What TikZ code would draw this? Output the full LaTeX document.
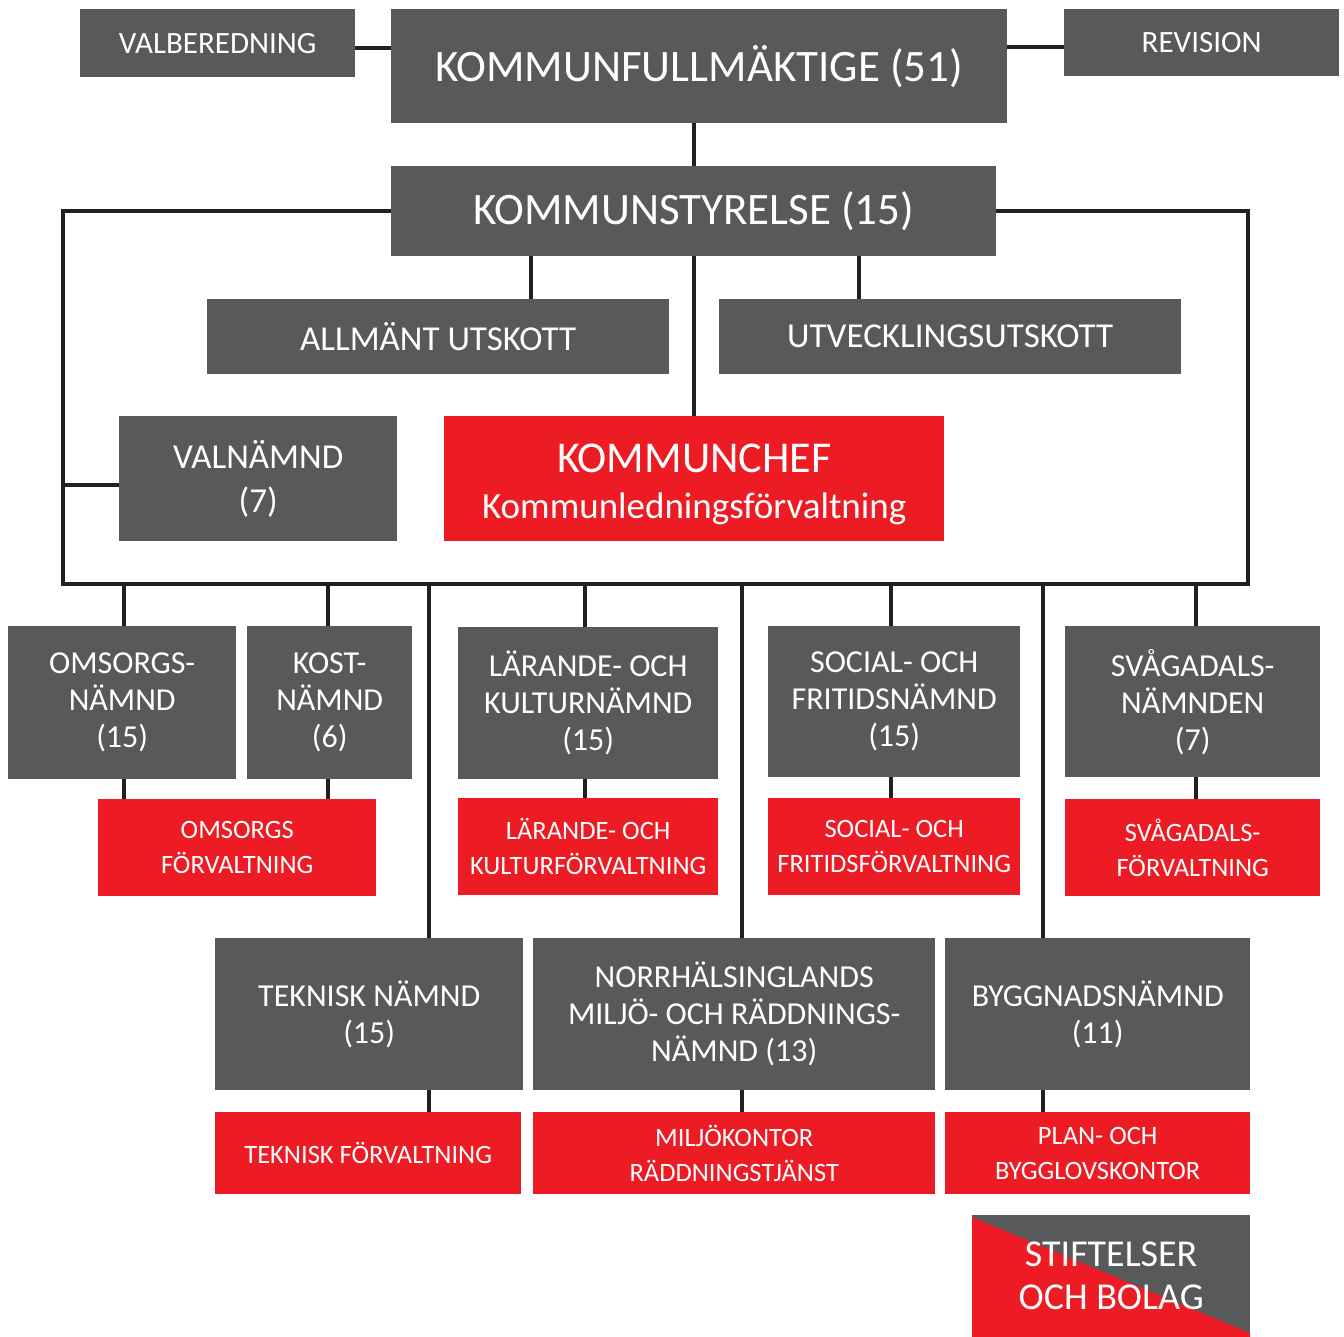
\documentclass[tikz,border=0pt]{standalone}
\usepackage{fontspec}
\setmainfont{Carlito}
\usepackage{xcolor}
\usepackage{tikz}
\definecolor{kgray}{HTML}{58595B}
\definecolor{kred}{HTML}{ED1C24}
\definecolor{kline}{HTML}{231F20}
\usetikzlibrary{positioning,calc}

\begin{document}
\begin{tikzpicture}[x=1pt, y=-1pt,
    box/.style={anchor=north west, inner sep=0pt, align=center, text=white},
    gray box/.style={box, fill=kgray},
    red box/.style={box, fill=kred},
    big text/.style={font=\fontsize{45}{52}\selectfont},
    mid text/.style={font=\fontsize{32}{37}\selectfont},
    small text/.style={font=\fontsize{26.5}{35}\selectfont},
    link/.style={draw=kline, line width=4pt}]
    \useasboundingbox (0,0) rectangle (1344,1337);

    % top level
    \node[gray box, minimum width=275, minimum height=68, font=\fontsize{31}{36}\selectfont] (valb) at (80,9) {VALBEREDNING};
    \node[gray box, minimum width=616, minimum height=114, big text] (kf) at (391,9) {KOMMUNFULLMÄKTIGE (51)};
    \node[gray box, minimum width=275, minimum height=67, font=\fontsize{31}{36}\selectfont] (rev) at (1064,9) {REVISION};
    \node[gray box, minimum width=605, minimum height=90, big text] (ks) at (391,166) {KOMMUNSTYRELSE (15)};
    \node[gray box, minimum width=462, minimum height=75, font=\fontsize{35}{40}\selectfont] (au) at (207,299) {ALLMÄNT UTSKOTT};
    \node[gray box, minimum width=462, minimum height=75, font=\fontsize{35}{40}\selectfont] (uu) at (719,299) {UTVECKLINGSUTSKOTT};
    \node[gray box, minimum width=278, minimum height=125, font=\fontsize{35}{44}\selectfont] (vn) at (119,416) {VALNÄMND\\(7)};
    \node[red box, minimum width=500, minimum height=125, font=\fontsize{44}{46}\selectfont] (kc) at (444,416)
        {\rule{0pt}{40pt}KOMMUNCHEF\\{\fontsize{37}{44}\selectfont Kommunledningsförvaltning}};

    % nämnder
    \node[gray box, minimum width=228, minimum height=153, mid text] (omn) at (8,626) {OMSORGS-\\NÄMND\\(15)};
    \node[gray box, minimum width=165, minimum height=153, mid text] (kost) at (247,626) {KOST-\\NÄMND\\(6)};
    \node[red box, minimum width=278, minimum height=97, small text] (omf) at (98,799) {OMSORGS\\FÖRVALTNING};
    \node[gray box, minimum width=260, minimum height=152, mid text] (lkn) at (458,627) {LÄRANDE- OCH\\KULTURNÄMND\\(15)};
    \node[red box, minimum width=260, minimum height=97, small text] (lkf) at (458,798) {LÄRANDE- OCH\\KULTURFÖRVALTNING};
    \node[gray box, minimum width=252, minimum height=151, mid text] (sfn) at (768,626) {SOCIAL- OCH\\FRITIDSNÄMND\\(15)};
    \node[red box, minimum width=252, minimum height=97, small text] (sff) at (768,798) {SOCIAL- OCH\\FRITIDSFÖRVALTNING};
    \node[gray box, minimum width=255, minimum height=151, mid text] (svn) at (1065,626) {SVÅGADALS-\\NÄMNDEN\\(7)};
    \node[red box, minimum width=255, minimum height=97, small text] (svf) at (1065,799) {SVÅGADALS-\\FÖRVALTNING};
    \node[gray box, minimum width=308, minimum height=152, mid text] (tn) at (215,938) {TEKNISK NÄMND\\(15)};
    \node[red box, minimum width=306, minimum height=82, small text] (tf) at (215,1112) {TEKNISK FÖRVALTNING};
    \node[gray box, minimum width=402, minimum height=152, mid text] (nmr) at (533,938) {NORRHÄLSINGLANDS\\MILJÖ- OCH RÄDDNINGS-\\NÄMND (13)};
    \node[red box, minimum width=402, minimum height=82, small text] (mrk) at (533,1112) {MILJÖKONTOR\\RÄDDNINGSTJÄNST};
    \node[gray box, minimum width=305, minimum height=152, mid text] (bn) at (945,938) {BYGGNADSNÄMND\\(11)};
    \node[red box, minimum width=305, minimum height=82, small text] (pbk) at (945,1112) {PLAN- OCH\\BYGGLOVSKONTOR};

    % stiftelser och bolag
    \fill[kgray] (972,1215) rectangle (1250,1337);
    \fill[kred] (972,1217) -- (1250,1333) -- (1250,1337) -- (972,1337) -- cycle;
    \node[box, minimum width=278, minimum height=122, font=\fontsize{38}{43}\selectfont] (sob) at (972,1215) {STIFTELSER\\OCH BOLAG};

    % connectors
    \coordinate (fl) at (63,584);
    \coordinate (fr) at (1248,584);
    \draw[link] ([yshift=-5pt]valb.east) -- ([yshift=-5pt]valb.east -| kf.west);
    \draw[link] ([yshift=-4pt]rev.west) -- ([yshift=-4pt]rev.west -| kf.east);
    \draw[link] (ks.north) -- (ks.north |- kf.south);
    \draw[link] (ks.west) -| (fl) -- (fr) |- (ks.east);
    \draw[link] ([xshift=93pt]au.north) -- ([xshift=93pt]au.north |- ks.south);
    \draw[link] ([xshift=-91pt]uu.north) -- ([xshift=-91pt]uu.north |- ks.south);
    \draw[link] (kc.north) -- (kc.north |- ks.south);
    \draw[link] ([yshift=-6pt]vn.west) -- ([yshift=-6pt]vn.west -| fl);
    \draw[link] ([xshift=2pt]omn.north) -- ([xshift=2pt]omn.north |- fl);
    \draw[link] ([xshift=-2pt]kost.north) -- ([xshift=-2pt]kost.north |- fl);
    \draw[link] ([xshift=-3pt]lkn.north) -- ([xshift=-3pt]lkn.north |- fl);
    \draw[link] ([xshift=-3pt]sfn.north) -- ([xshift=-3pt]sfn.north |- fl);
    \draw[link] ([xshift=3pt]svn.north) -- ([xshift=3pt]svn.north |- fl);
    \draw[link] ([xshift=60pt]tn.north) -- ([xshift=60pt]tn.north |- fl);
    \draw[link] ([xshift=8pt]nmr.north) -- ([xshift=8pt]nmr.north |- fl);
    \draw[link] ([xshift=-55pt]bn.north) -- ([xshift=-55pt]bn.north |- fl);
    \draw[link] ([xshift=2pt]omn.south) -- ([xshift=2pt]omn.south |- omf.north);
    \draw[link] ([xshift=-2pt]kost.south) -- ([xshift=-2pt]kost.south |- omf.north);
    \draw[link] ([xshift=-3pt]lkn.south) -- ([xshift=-3pt]lkn.south |- lkf.north);
    \draw[link] ([xshift=-3pt]sfn.south) -- ([xshift=-3pt]sfn.south |- sff.north);
    \draw[link] ([xshift=3pt]svn.south) -- ([xshift=3pt]svn.south |- svf.north);
    \draw[link] ([xshift=60pt]tn.south) -- ([xshift=60pt]tn.south |- tf.north);
    \draw[link] ([xshift=8pt]nmr.south) -- ([xshift=8pt]nmr.south |- mrk.north);
    \draw[link] ([xshift=-55pt]bn.south) -- ([xshift=-55pt]bn.south |- pbk.north);
\end{tikzpicture}
\end{document}
